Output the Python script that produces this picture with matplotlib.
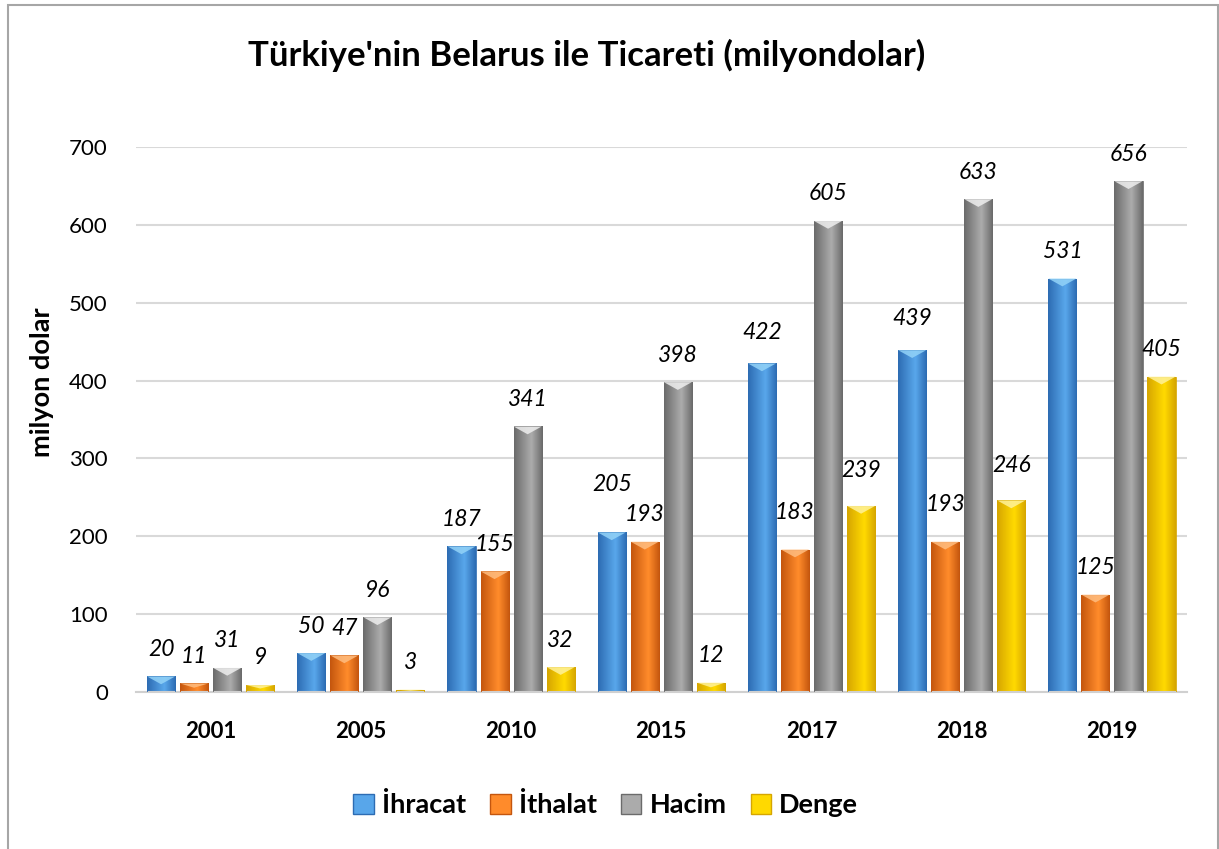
import matplotlib
matplotlib.use("Agg")
import matplotlib.pyplot as plt
import numpy as np
from matplotlib.patches import Rectangle, Polygon, Patch
from matplotlib.colors import to_rgb

plt.rcParams['font.family'] = ['Lato', 'DejaVu Sans']

years = ['2001', '2005', '2010', '2015', '2017', '2018', '2019']
ihracat = [20, 50, 187, 205, 422, 439, 531]
ithalat = [11, 47, 155, 193, 183, 193, 125]
hacim = [31, 96, 341, 398, 605, 633, 656]
denge = [9, 3, 32, 12, 239, 246, 405]
series_names = ['İhracat', 'İthalat', 'Hacim', 'Denge']

# dark / light / bevel shades per series
shades = [
    ('#2d6cb3', '#58a6ea', '#93d3f8'),
    ('#c4560e', '#ff8b2b', '#ffbd80'),
    ('#6b6b6b', '#ababab', '#eeeeee'),
    ('#d6a600', '#ffd900', '#fff29a'),
]

# extra lift (points) for labels that were moved up in the original
label_lift = {(3, 0): 15, (4, 0): 3, (4, 1): 7, (4, 3): 6,
              (5, 0): 3, (5, 1): 7, (5, 3): 6}

fig = plt.figure(figsize=(12.19, 8.49), dpi=100)
ax = fig.add_axes([0.1112, 0.1849, 0.8626, 0.642])

x = np.arange(len(years))
width = 0.187
step = 0.22
all_series = [ihracat, ithalat, hacim, denge]

for si, vals in enumerate(all_series):
    dark, light, bevel = shades[si]
    pos = x + (si - 1.5) * step
    bars = ax.bar(pos, vals, width, color='none', edgecolor=dark, linewidth=0.6, zorder=3)
    d = np.array(to_rgb(dark))
    l = np.array(to_rgb(light))
    t = np.concatenate([np.linspace(0, 1, 30), np.linspace(1, 0, 20)])
    grad = d[None, :] + (l - d)[None, :] * t[:, None]
    grad = grad[None, :, :]
    for ci, b in enumerate(bars):
        x0 = b.get_x()
        x1 = x0 + b.get_width()
        h = b.get_height()
        im = ax.imshow(grad, extent=(x0, x1, 0, h), aspect='auto', zorder=2.5,
                       interpolation='bilinear')
        im.set_clip_path(b)
        dh = min(10, h / 2)
        tri = Polygon([(x0, h), (x1, h), ((x0 + x1) / 2, h - dh)],
                      closed=True, facecolor=bevel, edgecolor='none', alpha=0.85, zorder=3.2)
        ax.add_patch(tri)
        lift = label_lift.get((ci, si), 0)
        ax.annotate(str(vals[ci]), (b.get_x() + b.get_width() / 2, h),
                    xytext=(0, 19.5 + lift), textcoords='offset points',
                    ha='center', va='center', fontsize=16.5, style='italic', zorder=4)

ax.set_xlim(-0.5, len(years) - 0.5)
ax.set_ylim(0, 700)
ax.set_yticks(range(0, 701, 100))
ax.set_xticks(x)
ax.set_xticklabels(years, fontsize=16, fontweight='bold')
ax.tick_params(axis='y', length=0, pad=20, labelsize=16)
ax.tick_params(axis='x', length=0, pad=21)
ax.grid(axis='y', color='#d9d9d9', linewidth=1.5, zorder=0)
ax.set_axisbelow(True)
for s in ['top', 'right', 'left']:
    ax.spines[s].set_visible(False)
ax.spines['bottom'].set_color('#d0d0d0')
ax.spines['bottom'].set_linewidth(1.5)

ax.set_ylabel('milyon dolar', fontsize=19.5, fontweight='bold')
ax.yaxis.set_label_coords(-0.078, 0.569)

fig.text(0.481, 0.935, "Türkiye'nin Belarus ile Ticareti (milyondolar)",
         ha='center', va='center', fontsize=25, fontweight='bold')

handles = [Patch(facecolor=shades[i][1], edgecolor=shades[i][0]) for i in range(4)]
fig.legend(handles, series_names, loc='center', bbox_to_anchor=(0.497, 0.052), ncol=4,
           frameon=False, handlelength=0.75, handleheight=0.75, handletextpad=0.3,
           columnspacing=0.9, prop={'weight': 'bold', 'size': 19.5})

fig.patches.append(Rectangle((8 / 1219, -0.01), (1218 - 8) / 1219, 1 - 5 / 849 + 0.01,
                             transform=fig.transFigure, fill=False,
                             edgecolor='#a6a6a6', linewidth=1.5))

fig.savefig('out.png', dpi=100)
